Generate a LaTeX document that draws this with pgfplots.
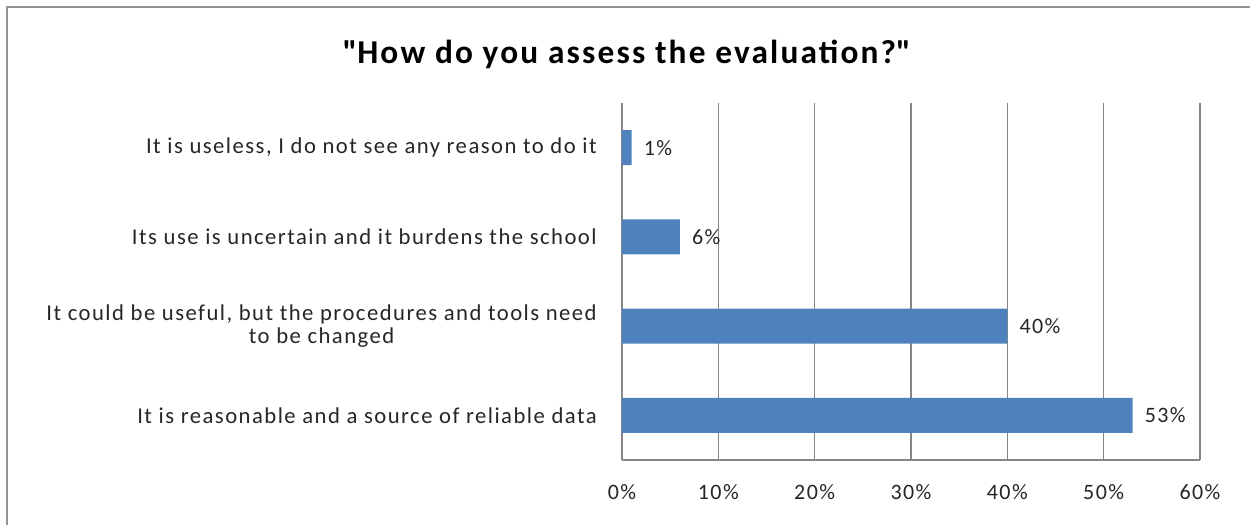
\documentclass[border=0pt]{standalone}
\usepackage{pgfplots}
\pgfplotsset{compat=1.18}
\usepackage{fontspec}
\setmainfont{Carlito}
\newfontfamily\lblfont[LetterSpace=6.5]{Carlito}
\newfontfamily\ttlfont[LetterSpace=6.5]{Carlito}
\definecolor{barblue}{HTML}{4F81BD}
\definecolor{gridgray}{HTML}{868686}
\definecolor{txt}{HTML}{262626}
\begin{document}
\begin{tikzpicture}
\useasboundingbox (0,0) rectangle (937.5pt,393.75pt);
\draw[gridgray!90, line width=1.2pt] (5.25pt,-10pt) -- (5.25pt,388.5pt) -- (950pt,388.5pt);
\node[font=\ttlfont\fontsize{25}{30}\selectfont\bfseries] at (470pt,353pt) {\textquotedbl How do you assess the evaluation?\textquotedbl};
\begin{axis}[
  at={(466.5pt,48.75pt)}, anchor=south west,
  scale only axis, width=433.5pt, height=267.75pt,
  xbar, bar width=26.25pt,
  xmin=0, xmax=60, ymin=-0.5, ymax=3.5,
  axis x line=bottom, axis y line=left,
  axis line style={gridgray, line width=0.9pt, -},
  xmajorgrids, major grid style={gridgray, line width=0.9pt},
  xtick={0,10,...,60},
  xticklabels={0\%,10\%,20\%,30\%,40\%,50\%,60\%},
  ytick={0,1,2,3},
  yticklabels={It is reasonable and a source of reliable data,
    {It could be useful, but the procedures and tools need\\to be changed},
    Its use is uncertain and it burdens the school,
    {It is useless, I do not see any reason to do it}},
  major tick length=0pt,
  /pgf/number format/assume math mode=true,
  tick label style={font=\lblfont\fontsize{16.5}{20}\selectfont, text=txt},
  yticklabel style={font=\lblfont\fontsize{17}{17}\selectfont, align=center, inner sep=0pt, xshift=-18.75pt},
  xticklabel style={inner sep=0pt, yshift=-18pt},
  nodes near coords={\pgfmathprintnumber{\pgfplotspointmeta}\%},
  nodes near coords align=horizontal,
  every node near coord/.append style={font=\lblfont\fontsize{16.5}{20}\selectfont, text=txt, anchor=west, inner sep=0pt, xshift=9pt},
  clip=false,
]
\addplot[fill=barblue, draw=none] coordinates {(53,0) (40,1) (6,2) (1,3)};
\end{axis}
\end{tikzpicture}
\end{document}
